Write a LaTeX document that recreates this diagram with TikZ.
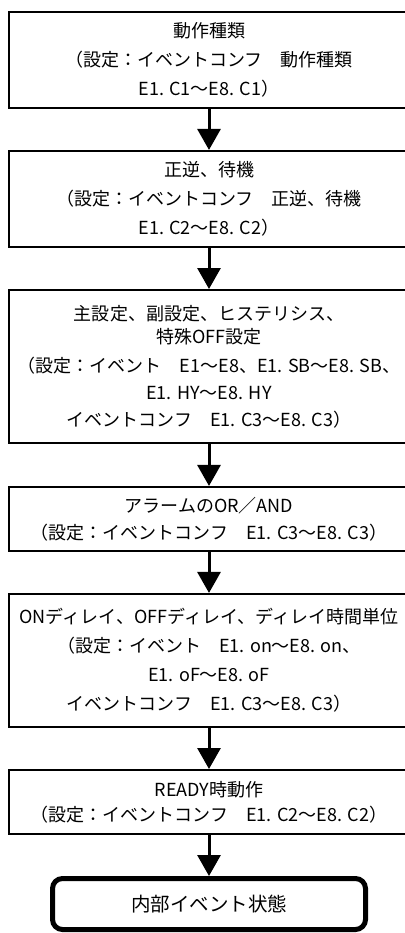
\documentclass[tikz,border=0pt]{standalone}
\usepackage{fontspec}
\setmainfont{Noto Sans CJK JP}
\usetikzlibrary{positioning, arrows.meta}

\begin{document}
\begin{tikzpicture}[x=1pt, y=-1pt, >={Triangle[width=23pt,length=21pt]}, font=\fontsize{18}{29}\selectfont]

    % Custom styles for the flow boxes and the arrows between them
    \tikzset{
        stepbox/.style={draw, line width=2pt, minimum width=400pt, align=center, inner sep=0pt},
        endbox/.style={draw, line width=5pt, rounded corners=10pt, minimum width=313pt, minimum height=51pt, font=\fontsize{19.5}{24}\selectfont},
        flow/.style={->, line width=3pt}
    }
    \useasboundingbox (0,0) rectangle (404,933);

    % ==========================================
    % Setting steps
    % ==========================================
    \node[stepbox, minimum height=95.5pt] (kind) at (209,59.8)
        {動作種類\\（設定：イベントコンフ　動作種類\\E1. C1～E8. C1）};
    \node[stepbox, minimum height=95.7pt] (dir) at (209,198.8)
        {正逆、待機\\（設定：イベントコンフ　正逆、待機\\E1. C2～E8. C2）};
    \node[stepbox, minimum height=153pt] (sp) at (209,366.5)
        {主設定、副設定、ヒステリシス、\\[-6pt]特殊OFF設定\\（設定：イベント　E1～E8、E1. SB～E8. SB、\\[-2pt]E1. HY～E8. HY\\[-2pt]イベントコンフ　E1. C3～E8. C3）};
    \node[stepbox, minimum height=63.7pt] (logic) at (209,518.8)
        {アラームのOR／AND\\[-2pt]（設定：イベントコンフ　E1. C3～E8. C3）};
    \node[stepbox, minimum height=132.7pt] (delay) at (209,660.3)
        {ONディレイ、OFFディレイ、ディレイ時間単位\\（設定：イベント　E1. on～E8. on、\\E1. oF～E8. oF\\イベントコンフ　E1. C3～E8. C3）};
    \node[stepbox, minimum height=64pt] (ready) at (209,802)
        {READY時動作\\[-4pt]（設定：イベントコンフ　E1. C2～E8. C2）};

    % Result
    \node[endbox] (state) at (209,904) {内部イベント状態};

    % Arrows
    \draw[flow] (kind) -- (dir);
    \draw[flow] (dir) -- (sp);
    \draw[flow] (sp) -- (logic);
    \draw[flow] (logic) -- (delay);
    \draw[flow] (delay) -- (ready);
    \draw[flow] (ready) -- (state);

\end{tikzpicture}
\end{document}
